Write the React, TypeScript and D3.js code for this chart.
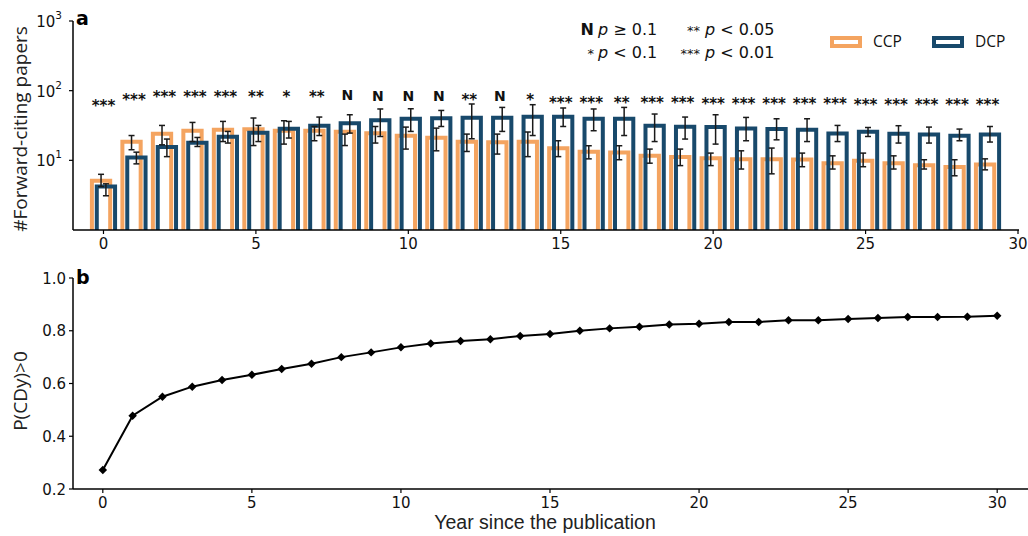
import * as d3 from "d3";

// years since publication (panel a categories)
const yearsA = [0, 1, 2, 3, 4, 5, 6, 7, 8, 9, 10, 11, 12, 13, 14, 15, 16, 17, 18, 19, 20, 21, 22, 23, 24, 25, 26, 27, 28, 29];

// #forward-citing papers, CCP / DCP
const ccpValues = [5.1, 18.5, 24, 26.6, 27.5, 27.9, 26.6, 26.6, 25.7, 24.5, 22.5, 21.1, 18.5, 18.2, 18.5, 14.9, 13.3, 13.0, 11.6, 11.2, 10.7, 10.4, 10.4, 10.3, 9.1, 9.9, 9.1, 8.5, 8.0, 8.7];
const dcpValues = [4.2, 11.0, 15.6, 17.9, 21.8, 24.9, 28.4, 31.4, 34.1, 37.6, 39.5, 40.2, 40.9, 40.9, 42.3, 42.3, 39.5, 39.5, 31.4, 30.3, 30.0, 28.7, 28.1, 27.5, 24.3, 25.7, 24.0, 23.5, 22.5, 23.5];

// error bar ends
const ccpLow = [4.2, 14.2, 16.7, 18.6, 18.6, 16.3, 17.1, 19.1, 16.3, 17.7, 14.5, 13.7, 13.4, 12.3, 11.3, 11.3, 10.5, 10.2, 9.1, 8.4, 8.4, 7.5, 6.4, 8.1, 7.5, 8.1, 7.5, 7.5, 6.0, 7.3];
const ccpHigh = [6.3, 22.7, 31.7, 35, 36.2, 40.5, 37, 30.6, 23.8, 30.6, 30, 29, 23.8, 23.8, 25.5, 19.1, 16.2, 16.2, 14.5, 14.5, 12.7, 13.7, 15, 12.7, 11.6, 12.7, 11.6, 10.2, 10.2, 10.5];
const dcpLow = [3.1, 8.9, 11.3, 15.8, 17.7, 18.6, 20.9, 22.7, 24.6, 22, 26, 30.6, 20.4, 26, 22.7, 30.6, 26.6, 22.7, 18.6, 20.2, 17.1, 19.1, 19.7, 18.6, 18.6, 22, 17.7, 17.7, 19.1, 18.3];
const dcpHigh = [4.6, 13.1, 20.2, 21.3, 26, 31.7, 36.2, 41.8, 45.1, 54.6, 55, 52, 64.4, 57.5, 62.9, 56.4, 54.6, 57.5, 46.2, 41.8, 45.1, 41.3, 39.5, 39.5, 31.7, 29.6, 31.4, 30, 28.1, 30.6];

// significance marks and the height (in paper counts) they sit at
const sigLabels = ["***", "***", "***", "***", "***", "**", "*", "**", "N", "N", "N", "N", "**", "N", "*", "***", "***", "**", "***", "***", "***", "***", "***", "***", "***", "***", "***", "***", "***", "***"];
const sigHeights = [56, 68, 76, 76, 76, 75, 75, 75, 74, 72, 70, 70, 68, 70, 68, 63, 63, 63, 63, 63, 60, 60, 60, 60, 60, 58, 58, 58, 58, 58];

// panel b: P(CDy)>0
const yearsB = [0, 1, 2, 3, 4, 5, 6, 7, 8, 9, 10, 11, 12, 13, 14, 15, 16, 17, 18, 19, 20, 21, 22, 23, 24, 25, 26, 27, 28, 29, 30];
const probValues = [0.272, 0.478, 0.55, 0.588, 0.613, 0.633, 0.655, 0.675, 0.7, 0.718, 0.737, 0.752, 0.761, 0.768, 0.78, 0.788, 0.8, 0.809, 0.815, 0.824, 0.827, 0.833, 0.833, 0.84, 0.84, 0.845, 0.848, 0.852, 0.852, 0.853, 0.857];

const xTicks = [0, 5, 10, 15, 20, 25, 30];
const yTicksA = [10, 100, 1000];
const yTicksB = [0.2, 0.4, 0.6, 0.8, 1.0];

const ORANGE = "#F4A460";
const BLUE = "#18496B";
const TICK_FONT = "DejaVu Sans, sans-serif";
const LABEL_FONT = "Open Sans, sans-serif";

export default function App() {
  // panel a scales
  const xA = d3.scaleLinear().domain([-1, 30]).range([73, 1018]);
  const yA = d3.scaleLog().domain([1, 1000]).range([230, 21]);
  // panel b scales
  const xB = d3.scaleLinear().domain([-1, 31]).range([73, 1027]);
  const yB = d3.scaleLinear().domain([0.2, 1.0]).range([489, 278]);

  const barW = xA(0.6) - xA(0);
  const offset = 0.08;

  // open bar outline (no bottom side)
  const barPath = (cx: number, v: number) => {
    const x0 = cx - barW / 2;
    const x1 = cx + barW / 2;
    return `M${x0},${yA(1) + 3}V${yA(v)}H${x1}V${yA(1) + 3}`;
  };

  const errBar = (cx: number, lo: number, hi: number, key: string) => (
    <g key={key} stroke="#1a1a1a" strokeWidth={1.5}>
      <line x1={cx} x2={cx} y1={yA(lo)} y2={yA(hi)} />
      <line x1={cx - 3} x2={cx + 3} y1={yA(lo)} y2={yA(lo)} />
      <line x1={cx - 3} x2={cx + 3} y1={yA(hi)} y2={yA(hi)} />
    </g>
  );

  const line = d3
    .line<number>()
    .x((_, i) => xB(yearsB[i]))
    .y((d) => yB(d));
  const diamond = d3.symbol().type(d3.symbolDiamond2).size(46)();

  return (
    <svg width={1028} height={536} style={{ position: "absolute", left: 0, top: 0, background: "#fff" }}>
      <defs>
        <clipPath id="clipA">
          <rect x={73} y={0} width={960} height={230} />
        </clipPath>
      </defs>

      {/* ---------- panel a ---------- */}
      <g clipPath="url(#clipA)" fill="none" strokeWidth={4}>
        {yearsA.map((yr, i) => (
          <path key={"c" + yr} d={barPath(xA(yr - offset), ccpValues[i])} stroke={ORANGE} />
        ))}
        {yearsA.map((yr, i) => (
          <path key={"d" + yr} d={barPath(xA(yr + offset), dcpValues[i])} stroke={BLUE} />
        ))}
      </g>
      {yearsA.map((yr, i) => errBar(xA(yr - offset), ccpLow[i], ccpHigh[i], "ec" + yr))}
      {yearsA.map((yr, i) => errBar(xA(yr + offset), dcpLow[i], dcpHigh[i], "ed" + yr))}

      {yearsA.map((yr, i) => (
        <text
          key={"s" + yr}
          x={xA(yr)}
          y={yA(sigHeights[i]) + (sigLabels[i] === "N" ? 0 : 3)}
          textAnchor="middle"
          fontFamily={TICK_FONT}
          fontWeight="bold"
          fontSize={sigLabels[i] === "N" ? 14 : 15}
          fill="#111"
        >
          {sigLabels[i]}
        </text>
      ))}

      {/* axes a */}
      <line x1={73} x2={73} y1={21} y2={230} stroke="#000" strokeWidth={1.5} />
      <line x1={73} x2={1019} y1={230} y2={230} stroke="#000" strokeWidth={1.5} />
      {yTicksA.map((t) => (
        <g key={"ya" + t}>
          <line x1={69} x2={73} y1={yA(t)} y2={yA(t)} stroke="#000" strokeWidth={1.2} />
          <text x={62} y={yA(t) + 6} textAnchor="end" fontFamily={TICK_FONT} fontSize={15} fill="#111">
            10
            <tspan dy={-8} fontSize={10.5}>{Math.round(Math.log10(t))}</tspan>
          </text>
        </g>
      ))}
      {xTicks.map((t) => (
        <g key={"xa" + t}>
          <line x1={xA(t)} x2={xA(t)} y1={230} y2={234} stroke="#000" strokeWidth={1.2} />
          <text x={xA(t)} y={249} textAnchor="middle" fontFamily={TICK_FONT} fontSize={15} fill="#111">
            {t}
          </text>
        </g>
      ))}
      <text
        transform="translate(27,129) rotate(-90)"
        textAnchor="middle"
        fontFamily={LABEL_FONT}
        fontSize={19}
        fill="#222"
      >
        #Forward-citing papers
      </text>
      <text x={76} y={25} fontFamily={TICK_FONT} fontWeight="bold" fontSize={19} fill="#000">a</text>

      {/* p-value key */}
      <g fontFamily={TICK_FONT} fontSize={16} fill="#111">
        <text x={594} y={35} textAnchor="end" fontWeight="bold">N</text>
        <text x={598} y={35}><tspan fontStyle="italic">p</tspan> ≥ 0.1</text>
        <text x={700} y={35} textAnchor="end" fontSize={13}>**</text>
        <text x={705} y={35}><tspan fontStyle="italic">p</tspan> &lt; 0.05</text>
        <text x={594} y={58} textAnchor="end" fontSize={13}>*</text>
        <text x={598} y={58}><tspan fontStyle="italic">p</tspan> &lt; 0.1</text>
        <text x={700} y={58} textAnchor="end" fontSize={13}>***</text>
        <text x={705} y={58}><tspan fontStyle="italic">p</tspan> &lt; 0.01</text>
      </g>

      {/* CCP / DCP legend */}
      <rect x={832} y={38} width={28} height={8} fill="none" stroke={ORANGE} strokeWidth={4} />
      <text x={873} y={47} fontFamily={LABEL_FONT} fontSize={15.5} fill="#111">CCP</text>
      <rect x={934} y={38} width={28} height={8} fill="none" stroke={BLUE} strokeWidth={4} />
      <text x={975} y={47} fontFamily={LABEL_FONT} fontSize={15.5} fill="#111">DCP</text>

      {/* ---------- panel b ---------- */}
      <line x1={73} x2={73} y1={278} y2={489} stroke="#000" strokeWidth={1.5} />
      <line x1={73} x2={1028} y1={489} y2={489} stroke="#000" strokeWidth={1.5} />
      {yTicksB.map((t) => (
        <g key={"yb" + t}>
          <line x1={69} x2={73} y1={yB(t)} y2={yB(t)} stroke="#000" strokeWidth={1.2} />
          <text x={66} y={yB(t) + 5.5} textAnchor="end" fontFamily={TICK_FONT} fontSize={15} fill="#111">
            {t.toFixed(1)}
          </text>
        </g>
      ))}
      {xTicks.map((t) => (
        <g key={"xb" + t}>
          <line x1={xB(t)} x2={xB(t)} y1={489} y2={493} stroke="#000" strokeWidth={1.2} />
          <text x={xB(t)} y={508} textAnchor="middle" fontFamily={TICK_FONT} fontSize={15} fill="#111">
            {t}
          </text>
        </g>
      ))}
      <path d={line(probValues) ?? ""} fill="none" stroke="#000" strokeWidth={2} />
      {probValues.map((v, i) => (
        <path key={"m" + i} d={diamond ?? ""} transform={`translate(${xB(yearsB[i])},${yB(v)})`} fill="#000" />
      ))}
      <text
        transform="translate(27,391) rotate(-90)"
        textAnchor="middle"
        fontFamily={LABEL_FONT}
        fontSize={19}
        fill="#222"
      >
        P(CDy)&gt;0
      </text>
      <text x={545} y={529} textAnchor="middle" fontFamily="Liberation Sans, sans-serif" fontSize={19.5} fill="#222">
        Year since the publication
      </text>
      <text x={76} y={284} fontFamily={TICK_FONT} fontWeight="bold" fontSize={19} fill="#000">b</text>
    </svg>
  );
}
